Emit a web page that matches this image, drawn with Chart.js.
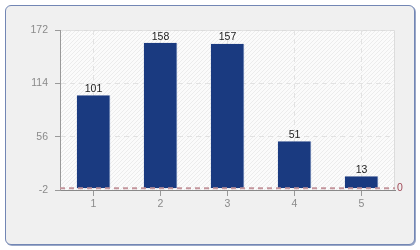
<!DOCTYPE html>
<html>
<head>
<meta charset="utf-8">
<script src="https://cdn.jsdelivr.net/npm/chart.js@4"></script>
<style>
  html, body { margin: 0; padding: 0; background: #ffffff; }
  #wrap { position: relative; width: 420px; height: 250px; }
  #panel {
    position: absolute; left: 5px; top: 5px; width: 408px; height: 238px;
    background: #f0f0f0; border: 1px solid #7286b4; border-radius: 6px;
    box-shadow: 1px 1px 0 #9aa8c8;
  }
  #chart { position: absolute; left: 0; top: 0; }
</style>
</head>
<body>
<div id="wrap">
  <div id="panel"></div>
  <canvas id="chart" width="420" height="250"></canvas>
</div>
<script>
const categories = ["1", "2", "3", "4", "5"];
const values = [101, 158, 157, 51, 13];
const yTicks = [-2, 56, 114, 172];

const FONT = { family: "'Liberation Sans', Arial, sans-serif", size: 10.5 };

// hatched plot background + light frame
const hatchPlugin = {
  id: "hatch",
  beforeDraw(chart) {
    const { ctx, chartArea: a } = chart;
    ctx.save();
    ctx.fillStyle = "#fbfbfb";
    ctx.fillRect(a.left, a.top, a.right - a.left, a.bottom - a.top);
    ctx.beginPath();
    ctx.rect(a.left, a.top, a.right - a.left, a.bottom - a.top);
    ctx.clip();
    ctx.strokeStyle = "#ececec";
    ctx.lineWidth = 1;
    const h = a.bottom - a.top;
    for (let x = a.left - h; x < a.right; x += 4) {
      ctx.beginPath();
      ctx.moveTo(x, a.bottom);
      ctx.lineTo(x + h, a.top);
      ctx.stroke();
    }
    ctx.restore();
    ctx.save();
    ctx.strokeStyle = "#dcdcdc";
    ctx.beginPath();
    ctx.moveTo(a.left, a.top + 0.5);
    ctx.lineTo(a.right - 0.5, a.top + 0.5);
    ctx.lineTo(a.right - 0.5, a.bottom);
    ctx.stroke();
    ctx.restore();
  },
};

// dashed zero line with its label on the right
const zeroLinePlugin = {
  id: "zeroLine",
  afterDatasetsDraw(chart) {
    const { ctx, chartArea: a, scales } = chart;
    const y = scales.y.getPixelForValue(0);
    ctx.save();
    ctx.strokeStyle = "#c4959c";
    ctx.lineWidth = 2;
    ctx.setLineDash([5, 4]);
    ctx.beginPath();
    ctx.moveTo(a.left, y);
    ctx.lineTo(a.right, y);
    ctx.stroke();
    ctx.setLineDash([]);
    ctx.fillStyle = "#a04a58";
    ctx.font = FONT.size + "px " + FONT.family;
    ctx.textAlign = "left";
    ctx.textBaseline = "middle";
    ctx.fillText("0", a.right + 2, y);
    ctx.restore();
  },
};

// value labels above bars
const valueLabelPlugin = {
  id: "valueLabels",
  afterDatasetsDraw(chart) {
    const { ctx } = chart;
    const meta = chart.getDatasetMeta(0);
    ctx.save();
    ctx.fillStyle = "#222222";
    ctx.font = FONT.size + "px " + FONT.family;
    ctx.textAlign = "center";
    ctx.textBaseline = "bottom";
    meta.data.forEach(function (bar, i) {
      ctx.fillText(String(values[i]), bar.x, bar.y - 1);
    });
    ctx.restore();
  },
};

new Chart(document.getElementById("chart").getContext("2d"), {
  type: "bar",
  data: {
    labels: categories,
    datasets: [
      {
        data: values,
        backgroundColor: "#1a3a80",
        borderColor: "#5a74aa",
        borderWidth: { top: 0, left: 0, bottom: 0, right: 1 },
        borderSkipped: false,
        barPercentage: 1,
        categoryPercentage: 0.5,
      },
    ],
  },
  options: {
    responsive: false,
    animation: false,
    layout: { padding: { left: 0, right: 25, top: 30, bottom: 0 } },
    plugins: {
      legend: { display: false },
      tooltip: { enabled: false },
    },
    scales: {
      x: {
        afterFit: function (scale) {
          scale.height = 60;
        },
        grid: {
          offset: false,
          color: "#e2e2e2",
          tickColor: "#999999",
          tickLength: 6,
        },
        border: { color: "#888888", dash: [5, 4] },
        ticks: { color: "#8a8a8a", font: FONT, padding: 2 },
      },
      y: {
        min: -2,
        max: 172,
        afterFit: function (scale) {
          scale.width = 60;
        },
        afterBuildTicks: function (scale) {
          scale.ticks = yTicks.map(function (v) {
            return { value: v };
          });
        },
        grid: {
          color: "#e2e2e2",
          tickColor: "#999999",
          tickLength: 5,
        },
        border: { color: "#999999", dash: [5, 4] },
        ticks: { color: "#8a8a8a", font: FONT, padding: 7 },
      },
    },
  },
  plugins: [hatchPlugin, zeroLinePlugin, valueLabelPlugin],
});
</script>
</body>
</html>
